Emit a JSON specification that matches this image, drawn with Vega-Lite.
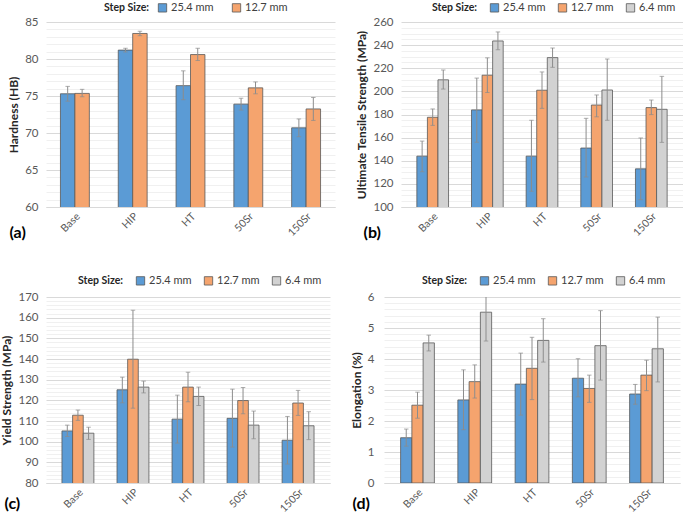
{
  "$schema": "https://vega.github.io/schema/vega-lite/v6.json",
  "padding": {"left": 0, "top": 2, "right": 0, "bottom": 0},
  "background": "white",
  "config": {
    "font": "Lato",
    "view": {"stroke": null},
    "axis": {"labelFont": "Lato", "titleFont": "Lato"},
    "axisY": {"titleFontWeight": "bold", "titleFontSize": 12, "titleColor": "#262626", "labelFontSize": 11.5, "labelColor": "#595959", "labelOverlap": false, "labelFlush": false, "ticks": false, "domain": false, "labelPadding": 8},
    "axisX": {"labelFontSize": 10.5, "labelColor": "#595959", "labelPadding": 4, "ticks": false, "domainColor": "#D9D9D9", "grid": false, "labelAngle": -45, "titleFontSize": 16, "titleFontWeight": "bold", "titleColor": "#000000", "titleAngle": 0, "titleAlign": "left", "titleBaseline": "middle"},
    "legend": {"labelFont": "Lato", "titleFont": "Lato"}
  },
  "datasets": {
    "hard": [
      {"cat": "Base", "step": "25.4 mm", "value": 75.3, "lo": 74.3, "hi": 76.3},
      {"cat": "Base", "step": "12.7 mm", "value": 75.35, "lo": 74.9, "hi": 75.9},
      {"cat": "HIP", "step": "25.4 mm", "value": 81.2, "lo": 80.95, "hi": 81.45},
      {"cat": "HIP", "step": "12.7 mm", "value": 83.45, "lo": 83.15, "hi": 83.75},
      {"cat": "HT", "step": "25.4 mm", "value": 76.4, "lo": 74.5, "hi": 78.4},
      {"cat": "HT", "step": "12.7 mm", "value": 80.6, "lo": 79.8, "hi": 81.45},
      {"cat": "50Sr", "step": "25.4 mm", "value": 73.9, "lo": 73.1, "hi": 74.7},
      {"cat": "50Sr", "step": "12.7 mm", "value": 76.1, "lo": 75.3, "hi": 76.9},
      {"cat": "150Sr", "step": "25.4 mm", "value": 70.7, "lo": 69.5, "hi": 71.9},
      {"cat": "150Sr", "step": "12.7 mm", "value": 73.25, "lo": 71.7, "hi": 74.8}
    ],
    "uts": [
      {"cat": "Base", "step": "25.4 mm", "value": 144, "lo": 130.5, "hi": 157},
      {"cat": "Base", "step": "12.7 mm", "value": 177.6, "lo": 170.6, "hi": 184.8},
      {"cat": "Base", "step": "6.4 mm", "value": 210, "lo": 202, "hi": 218.5},
      {"cat": "HIP", "step": "25.4 mm", "value": 184, "lo": 156, "hi": 211.5},
      {"cat": "HIP", "step": "12.7 mm", "value": 214, "lo": 199, "hi": 229},
      {"cat": "HIP", "step": "6.4 mm", "value": 243.6, "lo": 236, "hi": 251.4},
      {"cat": "HT", "step": "25.4 mm", "value": 144, "lo": 113.6, "hi": 175},
      {"cat": "HT", "step": "12.7 mm", "value": 201, "lo": 185.3, "hi": 216.8},
      {"cat": "HT", "step": "6.4 mm", "value": 229.2, "lo": 220.8, "hi": 237.5},
      {"cat": "50Sr", "step": "25.4 mm", "value": 151, "lo": 126, "hi": 176.7},
      {"cat": "50Sr", "step": "12.7 mm", "value": 188.2, "lo": 178, "hi": 196.9},
      {"cat": "50Sr", "step": "6.4 mm", "value": 201.2, "lo": 175, "hi": 228},
      {"cat": "150Sr", "step": "25.4 mm", "value": 133, "lo": 106.3, "hi": 159.7},
      {"cat": "150Sr", "step": "12.7 mm", "value": 186, "lo": 179.9, "hi": 192.5},
      {"cat": "150Sr", "step": "6.4 mm", "value": 184.5, "lo": 155.9, "hi": 213}
    ],
    "ys": [
      {"cat": "Base", "step": "25.4 mm", "value": 105.2, "lo": 102.5, "hi": 108},
      {"cat": "Base", "step": "12.7 mm", "value": 112.8, "lo": 110.3, "hi": 115.3},
      {"cat": "Base", "step": "6.4 mm", "value": 104.1, "lo": 101.1, "hi": 107},
      {"cat": "HIP", "step": "25.4 mm", "value": 125.1, "lo": 118.8, "hi": 131.2},
      {"cat": "HIP", "step": "12.7 mm", "value": 139.9, "lo": 116.2, "hi": 163.6},
      {"cat": "HIP", "step": "6.4 mm", "value": 126.4, "lo": 123.6, "hi": 129.3},
      {"cat": "HT", "step": "25.4 mm", "value": 110.9, "lo": 99.3, "hi": 122.5},
      {"cat": "HT", "step": "12.7 mm", "value": 126.4, "lo": 119.3, "hi": 133.6},
      {"cat": "HT", "step": "6.4 mm", "value": 121.9, "lo": 117.5, "hi": 126.4},
      {"cat": "50Sr", "step": "25.4 mm", "value": 111.3, "lo": 97.4, "hi": 125.4},
      {"cat": "50Sr", "step": "12.7 mm", "value": 119.9, "lo": 113.5, "hi": 126.2},
      {"cat": "50Sr", "step": "6.4 mm", "value": 108, "lo": 101.4, "hi": 114.8},
      {"cat": "150Sr", "step": "25.4 mm", "value": 100.7, "lo": 89.2, "hi": 112.2},
      {"cat": "150Sr", "step": "12.7 mm", "value": 118.7, "lo": 112.7, "hi": 124.8},
      {"cat": "150Sr", "step": "6.4 mm", "value": 107.7, "lo": 101, "hi": 114.5}
    ],
    "el": [
      {"cat": "Base", "step": "25.4 mm", "value": 1.46, "lo": 1.19, "hi": 1.74},
      {"cat": "Base", "step": "12.7 mm", "value": 2.51, "lo": 2.09, "hi": 2.93},
      {"cat": "Base", "step": "6.4 mm", "value": 4.52, "lo": 4.26, "hi": 4.77},
      {"cat": "HIP", "step": "25.4 mm", "value": 2.68, "lo": 1.72, "hi": 3.65},
      {"cat": "HIP", "step": "12.7 mm", "value": 3.27, "lo": 2.74, "hi": 3.81},
      {"cat": "HIP", "step": "6.4 mm", "value": 5.51, "lo": 4.58, "hi": 6.44},
      {"cat": "HT", "step": "25.4 mm", "value": 3.19, "lo": 2.19, "hi": 4.19},
      {"cat": "HT", "step": "12.7 mm", "value": 3.7, "lo": 2.69, "hi": 4.7},
      {"cat": "HT", "step": "6.4 mm", "value": 4.6, "lo": 3.9, "hi": 5.3},
      {"cat": "50Sr", "step": "25.4 mm", "value": 3.38, "lo": 2.78, "hi": 4.01},
      {"cat": "50Sr", "step": "12.7 mm", "value": 3.05, "lo": 2.6, "hi": 3.48},
      {"cat": "50Sr", "step": "6.4 mm", "value": 4.43, "lo": 3.32, "hi": 5.56},
      {"cat": "150Sr", "step": "25.4 mm", "value": 2.87, "lo": 2.54, "hi": 3.18},
      {"cat": "150Sr", "step": "12.7 mm", "value": 3.48, "lo": 2.98, "hi": 3.96},
      {"cat": "150Sr", "step": "6.4 mm", "value": 4.33, "lo": 3.26, "hi": 5.35}
    ]
  },
  "vconcat": [
    {
      "hconcat": [
        {
          "width": 289, "height": 185,
          "data": {"name": "hard"},
          "encoding": {
            "x": {"field": "cat", "type": "nominal", "sort": ["Base", "HIP", "HT", "50Sr", "150Sr"],
              "scale": {"paddingInner": 0.5, "paddingOuter": 0.25},
              "axis": {"title": "(a)", "titleX": -37, "titleY": 25}},
            "xOffset": {"field": "step", "type": "nominal", "sort": ["25.4 mm", "12.7 mm"]}
          },
          "layer": [
            {"mark": {"type": "bar", "stroke": "#595959", "strokeWidth": 0.8, "clip": true},
              "encoding": {
                "y": {"field": "value", "type": "quantitative", "title": "Hardness (HB)", "scale": {"domain": [60, 85], "nice": false, "zero": false},
                  "axis": {"values": [60,61,62,63,64,65,66,67,68,69,70,71,72,73,74,75,76,77,78,79,80,81,82,83,84,85], "labelExpr": "datum.value % 5 === 0 ? datum.label : ''", "gridColor": {"condition": {"test": "datum.value % 5 === 0", "value": "#D9D9D9"}, "value": "#F0F0F0"}}},
                "color": {"field": "step", "type": "nominal", "sort": ["25.4 mm", "12.7 mm"],
                  "scale": {"domain": ["25.4 mm", "12.7 mm"], "range": ["#5B9BD5", "#F5A46E"]},
                  "legend": {"orient": "none", "legendX": 58, "legendY": -20, "direction": "horizontal", "title": "Step Size:", "titleOrient": "left", "titleFontWeight": "bold", "titleFontSize": 10.5, "titleColor": "#262626", "titlePadding": 8, "labelFontSize": 11, "labelColor": "#404040", "symbolType": "square", "symbolSize": 70, "symbolStrokeColor": "#595959", "symbolStrokeWidth": 0.8, "columnPadding": 16, "labelOffset": 3}}
              }},
            {"mark": {"type": "rule", "color": "#8C8C8C", "clip": true},
              "encoding": {"y": {"field": "lo", "type": "quantitative", "title": "Hardness (HB)",
                  "axis": {"values": [60,61,62,63,64,65,66,67,68,69,70,71,72,73,74,75,76,77,78,79,80,81,82,83,84,85], "labelExpr": "datum.value % 5 === 0 ? datum.label : ''", "gridColor": {"condition": {"test": "datum.value % 5 === 0", "value": "#D9D9D9"}, "value": "#F0F0F0"}}}, "y2": {"field": "hi"}}},
            {"mark": {"type": "tick", "color": "#8C8C8C", "size": 4.5, "thickness": 1, "clip": true},
              "encoding": {"y": {"field": "lo", "type": "quantitative", "title": "Hardness (HB)",
                  "axis": {"values": [60,61,62,63,64,65,66,67,68,69,70,71,72,73,74,75,76,77,78,79,80,81,82,83,84,85], "labelExpr": "datum.value % 5 === 0 ? datum.label : ''", "gridColor": {"condition": {"test": "datum.value % 5 === 0", "value": "#D9D9D9"}, "value": "#F0F0F0"}}}}},
            {"mark": {"type": "tick", "color": "#8C8C8C", "size": 4.5, "thickness": 1, "clip": true},
              "encoding": {"y": {"field": "hi", "type": "quantitative", "title": "Hardness (HB)",
                  "axis": {"values": [60,61,62,63,64,65,66,67,68,69,70,71,72,73,74,75,76,77,78,79,80,81,82,83,84,85], "labelExpr": "datum.value % 5 === 0 ? datum.label : ''", "gridColor": {"condition": {"test": "datum.value % 5 === 0", "value": "#D9D9D9"}, "value": "#F0F0F0"}}}}}
          ]
        },
        {
          "width": 282, "height": 185,
          "data": {"name": "uts"},
          "encoding": {
            "x": {"field": "cat", "type": "nominal", "sort": ["Base", "HIP", "HT", "50Sr", "150Sr"],
              "scale": {"paddingInner": 0.42, "paddingOuter": 0.29},
              "axis": {"title": "(b)", "titleX": -38, "titleY": 25}},
            "xOffset": {"field": "step", "type": "nominal", "sort": ["25.4 mm", "12.7 mm", "6.4 mm"]}
          },
          "layer": [
            {"mark": {"type": "bar", "stroke": "#595959", "strokeWidth": 0.8, "clip": true},
              "encoding": {
                "y": {"field": "value", "type": "quantitative", "title": "Ultimate Tensile Strength (MPa)", "scale": {"domain": [100, 260], "nice": false, "zero": false},
                  "axis": {"values": [100,105,110,115,120,125,130,135,140,145,150,155,160,165,170,175,180,185,190,195,200,205,210,215,220,225,230,235,240,245,250,255,260], "labelExpr": "datum.value % 20 === 0 ? datum.label : ''", "gridColor": {"condition": {"test": "datum.value % 20 === 0", "value": "#D9D9D9"}, "value": "#F0F0F0"}}},
                "color": {"field": "step", "type": "nominal", "sort": ["25.4 mm", "12.7 mm", "6.4 mm"],
                  "scale": {"domain": ["25.4 mm", "12.7 mm", "6.4 mm"], "range": ["#5B9BD5", "#F5A46E", "#D2D2D2"]},
                  "legend": {"orient": "none", "legendX": 31, "legendY": -20, "direction": "horizontal", "title": "Step Size:", "titleOrient": "left", "titleFontWeight": "bold", "titleFontSize": 10.5, "titleColor": "#262626", "titlePadding": 12, "labelFontSize": 11, "labelColor": "#404040", "symbolType": "square", "symbolSize": 70, "symbolStrokeColor": "#595959", "symbolStrokeWidth": 0.8, "columnPadding": 10, "labelOffset": 3}}
              }},
            {"mark": {"type": "rule", "color": "#8C8C8C", "clip": true},
              "encoding": {"y": {"field": "lo", "type": "quantitative", "title": "Ultimate Tensile Strength (MPa)",
                  "axis": {"values": [100,105,110,115,120,125,130,135,140,145,150,155,160,165,170,175,180,185,190,195,200,205,210,215,220,225,230,235,240,245,250,255,260], "labelExpr": "datum.value % 20 === 0 ? datum.label : ''", "gridColor": {"condition": {"test": "datum.value % 20 === 0", "value": "#D9D9D9"}, "value": "#F0F0F0"}}}, "y2": {"field": "hi"}}},
            {"mark": {"type": "tick", "color": "#8C8C8C", "size": 4.5, "thickness": 1, "clip": true},
              "encoding": {"y": {"field": "lo", "type": "quantitative", "title": "Ultimate Tensile Strength (MPa)",
                  "axis": {"values": [100,105,110,115,120,125,130,135,140,145,150,155,160,165,170,175,180,185,190,195,200,205,210,215,220,225,230,235,240,245,250,255,260], "labelExpr": "datum.value % 20 === 0 ? datum.label : ''", "gridColor": {"condition": {"test": "datum.value % 20 === 0", "value": "#D9D9D9"}, "value": "#F0F0F0"}}}}},
            {"mark": {"type": "tick", "color": "#8C8C8C", "size": 4.5, "thickness": 1, "clip": true},
              "encoding": {"y": {"field": "hi", "type": "quantitative", "title": "Ultimate Tensile Strength (MPa)",
                  "axis": {"values": [100,105,110,115,120,125,130,135,140,145,150,155,160,165,170,175,180,185,190,195,200,205,210,215,220,225,230,235,240,245,250,255,260], "labelExpr": "datum.value % 20 === 0 ? datum.label : ''", "gridColor": {"condition": {"test": "datum.value % 20 === 0", "value": "#D9D9D9"}, "value": "#F0F0F0"}}}}}
          ]
        }
      ],
      "spacing": 20,
      "resolve": {"scale": {"color": "independent", "y": "independent", "x": "independent", "xOffset": "independent"}, "legend": {"color": "independent"}}
    },
    {
      "hconcat": [
        {
          "width": 284, "height": 186,
          "data": {"name": "ys"},
          "encoding": {
            "x": {"field": "cat", "type": "nominal", "sort": ["Base", "HIP", "HT", "50Sr", "150Sr"],
              "scale": {"paddingInner": 0.42, "paddingOuter": 0.29},
              "axis": {"title": "(c)", "titleX": -42, "titleY": 20}},
            "xOffset": {"field": "step", "type": "nominal", "sort": ["25.4 mm", "12.7 mm", "6.4 mm"]}
          },
          "layer": [
            {"mark": {"type": "bar", "stroke": "#595959", "strokeWidth": 0.8, "clip": true},
              "encoding": {
                "y": {"field": "value", "type": "quantitative", "title": "Yield Strength (MPa)", "scale": {"domain": [80, 170], "nice": false, "zero": false},
                  "axis": {"values": [80,82,84,86,88,90,92,94,96,98,100,102,104,106,108,110,112,114,116,118,120,122,124,126,128,130,132,134,136,138,140,142,144,146,148,150,152,154,156,158,160,162,164,166,168,170], "labelExpr": "datum.value % 10 === 0 ? datum.label : ''", "gridColor": {"condition": {"test": "datum.value % 10 === 0", "value": "#D9D9D9"}, "value": "#F0F0F0"}}},
                "color": {"field": "step", "type": "nominal", "sort": ["25.4 mm", "12.7 mm", "6.4 mm"],
                  "scale": {"domain": ["25.4 mm", "12.7 mm", "6.4 mm"], "range": ["#5B9BD5", "#F5A46E", "#D2D2D2"]},
                  "legend": {"orient": "none", "legendX": 32, "legendY": -22, "direction": "horizontal", "title": "Step Size:", "titleOrient": "left", "titleFontWeight": "bold", "titleFontSize": 10.5, "titleColor": "#262626", "titlePadding": 12, "labelFontSize": 11, "labelColor": "#404040", "symbolType": "square", "symbolSize": 70, "symbolStrokeColor": "#595959", "symbolStrokeWidth": 0.8, "columnPadding": 10, "labelOffset": 3}}
              }},
            {"mark": {"type": "rule", "color": "#8C8C8C", "clip": true},
              "encoding": {"y": {"field": "lo", "type": "quantitative", "title": "Yield Strength (MPa)",
                  "axis": {"values": [80,82,84,86,88,90,92,94,96,98,100,102,104,106,108,110,112,114,116,118,120,122,124,126,128,130,132,134,136,138,140,142,144,146,148,150,152,154,156,158,160,162,164,166,168,170], "labelExpr": "datum.value % 10 === 0 ? datum.label : ''", "gridColor": {"condition": {"test": "datum.value % 10 === 0", "value": "#D9D9D9"}, "value": "#F0F0F0"}}}, "y2": {"field": "hi"}}},
            {"mark": {"type": "tick", "color": "#8C8C8C", "size": 4.5, "thickness": 1, "clip": true},
              "encoding": {"y": {"field": "lo", "type": "quantitative", "title": "Yield Strength (MPa)",
                  "axis": {"values": [80,82,84,86,88,90,92,94,96,98,100,102,104,106,108,110,112,114,116,118,120,122,124,126,128,130,132,134,136,138,140,142,144,146,148,150,152,154,156,158,160,162,164,166,168,170], "labelExpr": "datum.value % 10 === 0 ? datum.label : ''", "gridColor": {"condition": {"test": "datum.value % 10 === 0", "value": "#D9D9D9"}, "value": "#F0F0F0"}}}}},
            {"mark": {"type": "tick", "color": "#8C8C8C", "size": 4.5, "thickness": 1, "clip": true},
              "encoding": {"y": {"field": "hi", "type": "quantitative", "title": "Yield Strength (MPa)",
                  "axis": {"values": [80,82,84,86,88,90,92,94,96,98,100,102,104,106,108,110,112,114,116,118,120,122,124,126,128,130,132,134,136,138,140,142,144,146,148,150,152,154,156,158,160,162,164,166,168,170], "labelExpr": "datum.value % 10 === 0 ? datum.label : ''", "gridColor": {"condition": {"test": "datum.value % 10 === 0", "value": "#D9D9D9"}, "value": "#F0F0F0"}}}}}
          ]
        },
        {
          "width": 296, "height": 186,
          "data": {"name": "el"},
          "encoding": {
            "x": {"field": "cat", "type": "nominal", "sort": ["Base", "HIP", "HT", "50Sr", "150Sr"],
              "scale": {"paddingInner": 0.41, "paddingOuter": 0.29},
              "axis": {"title": "(d)", "titleX": -32, "titleY": 20}},
            "xOffset": {"field": "step", "type": "nominal", "sort": ["25.4 mm", "12.7 mm", "6.4 mm"]}
          },
          "layer": [
            {"mark": {"type": "bar", "stroke": "#595959", "strokeWidth": 0.8, "clip": true},
              "encoding": {
                "y": {"field": "value", "type": "quantitative", "title": "Elongation (%)", "scale": {"domain": [0, 6], "nice": false},
                  "axis": {"labelPadding": 10, "values": [0,0.2,0.4,0.6,0.8,1,1.2,1.4,1.6,1.8,2,2.2,2.4,2.6,2.8,3,3.2,3.4,3.6,3.8,4,4.2,4.4,4.6,4.8,5,5.2,5.4,5.6,5.8,6], "labelExpr": "datum.value % 1 === 0 ? toString(round(datum.value)) : ''", "gridColor": {"condition": {"test": "datum.value % 1 === 0", "value": "#D9D9D9"}, "value": "#F0F0F0"}}},
                "color": {"field": "step", "type": "nominal", "sort": ["25.4 mm", "12.7 mm", "6.4 mm"],
                  "scale": {"domain": ["25.4 mm", "12.7 mm", "6.4 mm"], "range": ["#5B9BD5", "#F5A46E", "#D2D2D2"]},
                  "legend": {"orient": "none", "legendX": 38, "legendY": -22, "direction": "horizontal", "title": "Step Size:", "titleOrient": "left", "titleFontWeight": "bold", "titleFontSize": 10.5, "titleColor": "#262626", "titlePadding": 12, "labelFontSize": 11, "labelColor": "#404040", "symbolType": "square", "symbolSize": 70, "symbolStrokeColor": "#595959", "symbolStrokeWidth": 0.8, "columnPadding": 10, "labelOffset": 3}}
              }},
            {"mark": {"type": "rule", "color": "#8C8C8C", "clip": true},
              "encoding": {"y": {"field": "lo", "type": "quantitative", "title": "Elongation (%)",
                  "axis": {"labelPadding": 10, "values": [0,0.2,0.4,0.6,0.8,1,1.2,1.4,1.6,1.8,2,2.2,2.4,2.6,2.8,3,3.2,3.4,3.6,3.8,4,4.2,4.4,4.6,4.8,5,5.2,5.4,5.6,5.8,6], "labelExpr": "datum.value % 1 === 0 ? toString(round(datum.value)) : ''", "gridColor": {"condition": {"test": "datum.value % 1 === 0", "value": "#D9D9D9"}, "value": "#F0F0F0"}}}, "y2": {"field": "hi"}}},
            {"mark": {"type": "tick", "color": "#8C8C8C", "size": 4.5, "thickness": 1, "clip": true},
              "encoding": {"y": {"field": "lo", "type": "quantitative", "title": "Elongation (%)",
                  "axis": {"labelPadding": 10, "values": [0,0.2,0.4,0.6,0.8,1,1.2,1.4,1.6,1.8,2,2.2,2.4,2.6,2.8,3,3.2,3.4,3.6,3.8,4,4.2,4.4,4.6,4.8,5,5.2,5.4,5.6,5.8,6], "labelExpr": "datum.value % 1 === 0 ? toString(round(datum.value)) : ''", "gridColor": {"condition": {"test": "datum.value % 1 === 0", "value": "#D9D9D9"}, "value": "#F0F0F0"}}}}},
            {"mark": {"type": "tick", "color": "#8C8C8C", "size": 4.5, "thickness": 1, "clip": true},
              "encoding": {"y": {"field": "hi", "type": "quantitative", "title": "Elongation (%)",
                  "axis": {"labelPadding": 10, "values": [0,0.2,0.4,0.6,0.8,1,1.2,1.4,1.6,1.8,2,2.2,2.4,2.6,2.8,3,3.2,3.4,3.6,3.8,4,4.2,4.4,4.6,4.8,5,5.2,5.4,5.6,5.8,6], "labelExpr": "datum.value % 1 === 0 ? toString(round(datum.value)) : ''", "gridColor": {"condition": {"test": "datum.value % 1 === 0", "value": "#D9D9D9"}, "value": "#F0F0F0"}}}}}
          ]
        }
      ],
      "spacing": 20,
      "resolve": {"scale": {"color": "independent", "y": "independent", "x": "independent", "xOffset": "independent"}, "legend": {"color": "independent"}}
    }
  ],
  "spacing": 35,
  "resolve": {"scale": {"color": "independent", "y": "independent", "x": "independent", "xOffset": "independent"}, "legend": {"color": "independent"}}
}
